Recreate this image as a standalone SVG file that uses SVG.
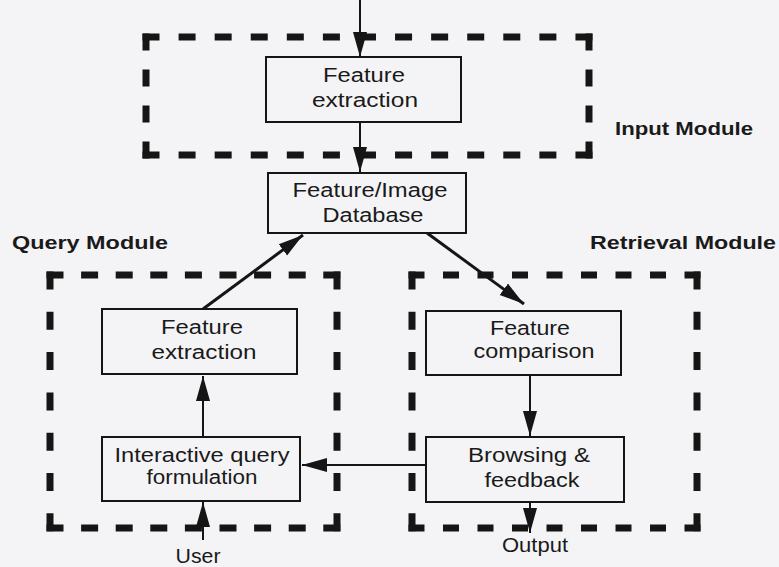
<svg xmlns="http://www.w3.org/2000/svg" width="779" height="567" viewBox="0 0 779 567">
<defs>
<style>
.bg{fill:#f4f4f6}
.box{fill:none;stroke:#151515;stroke-width:2}
.mod{fill:none;stroke:#151515;stroke-width:7}
.ln{fill:none;stroke:#151515;stroke-width:2}
.ln3{fill:none;stroke:#151515;stroke-width:3}
.t{font-family:"Liberation Sans",Arial,sans-serif;font-size:20px;fill:#1a1a1a;text-anchor:middle}
.b{font-family:"Liberation Sans",Arial,sans-serif;font-size:18px;font-weight:bold;fill:#1a1a1a}
</style>
<marker id="ah" markerUnits="userSpaceOnUse" markerWidth="26" markerHeight="16" viewBox="0 0 26 16" refX="25" refY="8" orient="auto">
<path d="M0,1 L25,8 L0,15 Z" fill="#151515"/>
</marker>
</defs>
<rect class="bg" x="0" y="0" width="779" height="567"/>

<g id="input-module">
<line class="mod" x1="142.5" y1="37" x2="592.5" y2="37" stroke-dasharray="17 19.08"/>
<line class="mod" x1="142.5" y1="155" x2="592.5" y2="155" stroke-dasharray="17 19.08"/>
<line class="mod" x1="146" y1="33.5" x2="146" y2="158.5" stroke-dasharray="17 19"/>
<line class="mod" x1="589" y1="33.5" x2="589" y2="158.5" stroke-dasharray="17 19"/>
<text class="b" x="615" y="135" textLength="138" lengthAdjust="spacingAndGlyphs">Input Module</text>
</g>

<g id="query-module">
<line class="mod" x1="46.5" y1="275" x2="340.5" y2="275" stroke-dasharray="17 17.6"/>
<line class="mod" x1="46.5" y1="528" x2="340.5" y2="528" stroke-dasharray="17 17.6"/>
<line class="mod" x1="50" y1="271.5" x2="50" y2="531.5" stroke-dasharray="18 22.3"/>
<line class="mod" x1="337" y1="271.5" x2="337" y2="531.5" stroke-dasharray="18 22.3"/>
<text class="b" x="12" y="249" textLength="156" lengthAdjust="spacingAndGlyphs">Query Module</text>
</g>

<g id="retrieval-module">
<line class="mod" x1="408.5" y1="275" x2="700.5" y2="275" stroke-dasharray="16 18.5"/>
<line class="mod" x1="408.5" y1="528" x2="700.5" y2="528" stroke-dasharray="16 18.5"/>
<line class="mod" x1="412" y1="271.5" x2="412" y2="531.5" stroke-dasharray="18 22.3"/>
<line class="mod" x1="697" y1="271.5" x2="697" y2="531.5" stroke-dasharray="18 22.3"/>
<text class="b" x="590" y="249" textLength="186" lengthAdjust="spacingAndGlyphs">Retrieval Module</text>
</g>

<g id="connectors">
<line class="ln" x1="360" y1="0" x2="360" y2="57" marker-end="url(#ah)"/>
<line class="ln" x1="360" y1="122" x2="360" y2="172" marker-end="url(#ah)"/>
<line class="ln3" x1="203" y1="309" x2="303" y2="235" marker-end="url(#ah)"/>
<line class="ln3" x1="427" y1="233" x2="524" y2="304" marker-end="url(#ah)"/>
<line class="ln" x1="530" y1="375" x2="530" y2="436" marker-end="url(#ah)"/>
<line class="ln" x1="203" y1="437" x2="203" y2="376" marker-end="url(#ah)"/>
<line class="ln" x1="203" y1="540" x2="203" y2="502" marker-end="url(#ah)"/>
<line class="ln" x1="426" y1="465" x2="302" y2="465" marker-end="url(#ah)"/>
<line class="ln" x1="530" y1="502" x2="530" y2="533" marker-end="url(#ah)"/>
</g>

<g id="input-feature-extraction">
<rect class="box" x="266" y="57" width="195" height="65"/>
<text class="t" x="364" y="82" textLength="82" lengthAdjust="spacingAndGlyphs">Feature</text>
<text class="t" x="365" y="107" textLength="106" lengthAdjust="spacingAndGlyphs">extraction</text>
</g>

<g id="database">
<rect class="box" x="268" y="173" width="198" height="60"/>
<text class="t" x="370" y="197" textLength="155" lengthAdjust="spacingAndGlyphs">Feature/Image</text>
<text class="t" x="373" y="222" textLength="101" lengthAdjust="spacingAndGlyphs">Database</text>
</g>

<g id="query-feature-extraction">
<rect class="box" x="102" y="309" width="195" height="65"/>
<text class="t" x="202" y="334" textLength="82" lengthAdjust="spacingAndGlyphs">Feature</text>
<text class="t" x="204" y="359" textLength="105" lengthAdjust="spacingAndGlyphs">extraction</text>
</g>

<g id="feature-comparison">
<rect class="box" x="426" y="311" width="195" height="64"/>
<text class="t" x="530" y="335" textLength="80" lengthAdjust="spacingAndGlyphs">Feature</text>
<text class="t" x="534" y="358" textLength="121" lengthAdjust="spacingAndGlyphs">comparison</text>
</g>

<g id="interactive-query">
<rect class="box" x="102" y="437" width="198" height="64"/>
<text class="t" x="202" y="462" textLength="175" lengthAdjust="spacingAndGlyphs">Interactive query</text>
<text class="t" x="202" y="484" textLength="111" lengthAdjust="spacingAndGlyphs">formulation</text>
</g>

<g id="browsing-feedback">
<rect class="box" x="426" y="437" width="198" height="65"/>
<text class="t" x="529" y="462" textLength="122" lengthAdjust="spacingAndGlyphs">Browsing &amp;</text>
<text class="t" x="532" y="487" textLength="95" lengthAdjust="spacingAndGlyphs">feedback</text>
</g>

<g id="labels">
<text class="t" x="535" y="552" textLength="66" lengthAdjust="spacingAndGlyphs">Output</text>
<text class="t" x="198" y="563" textLength="45" lengthAdjust="spacingAndGlyphs">User</text>
</g>
</svg>
